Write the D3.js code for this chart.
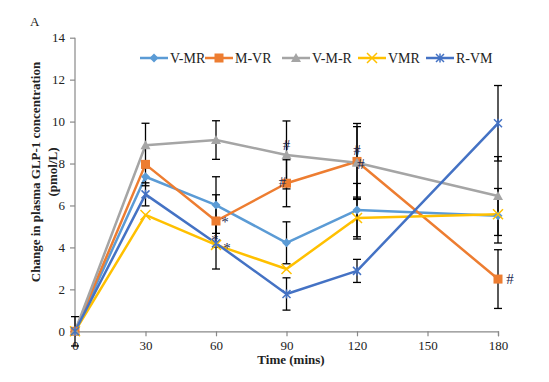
<!DOCTYPE html>
<html><head><meta charset="utf-8">
<script src="https://cdn.jsdelivr.net/npm/d3@7"></script>
<style>body{margin:0;background:#fff}svg{display:block}</style>
</head><body><svg id="c" width="549" height="382"></svg>
<script>
const times = [0, 30, 60, 90, 120, 180];
const xTicks = [0, 30, 60, 90, 120, 150, 180];
const yTicks = [0, 2, 4, 6, 8, 10, 12, 14];
const seriesNames = ["V-MR", "M-VR", "V-M-R", "VMR", "R-VM"];
const vMR  = [0, 7.37, 6.02, 4.22, 5.78, 5.51];
const mVR  = [0, 7.96, 5.26, 7.06, 8.10, 2.49];
const vMRs = [0, 8.87, 9.12, 8.41, 8.04, 6.45];
const VMR  = [0, 5.55, 4.12, 2.97, 5.40, 5.58];
const rVM  = [0, 6.53, 4.20, 1.78, 2.88, 9.92];
const errVMR_  = [null, 0.43, 1.35, 1.00, 1.27, 1.30];
const errMVR   = [null, null, 1.25, 1.12, 1.81, 1.40];
const errVMRs  = [0.70, 1.05, 0.92, 1.62, 1.72, 1.88];
const errVMR   = [null, null, 1.15, null, 1.00, null];
const errRVM   = [null, 0.55, null, 0.77, 0.55, 1.80];
const colors = ["#5B9BD5", "#ED7D31", "#A5A5A5", "#FFC000", "#4472C4"];
const markerTypes = ["diamond", "square", "triangle", "x", "star"];
const annotations = [
  {s: 1, i: 2, t: "*", dx: 9, dy: 6},
  {s: 3, i: 2, t: "*", dx: 11, dy: 8},
  {s: 4, i: 2, t: "*", dx: -1, dy: 2},
  {s: 2, i: 3, t: "#", dx: 0, dy: -5},
  {s: 1, i: 3, t: "#", dx: -4, dy: 4},
  {s: 1, i: 4, t: "#", dx: 0, dy: -6},
  {s: 1, i: 4, t: "#", dx: 4, dy: 8},
  {s: 1, i: 5, t: "#", dx: 12, dy: 5}
];

const valuesList = [vMR, mVR, vMRs, VMR, rVM];
const errList = [errVMR_, errMVR, errVMRs, errVMR, errRVM];
const series = seriesNames.map((n, k) => ({name: n, color: colors[k], marker: markerTypes[k],
  pts: times.map((t, i) => ({t, v: valuesList[k][i], e: errList[k][i]}))}));

const svg = d3.select("#c");
const font = "'Liberation Serif','Times New Roman',serif";
const x = d3.scaleLinear().domain([0, 180]).range([75, 498]);
const y = d3.scaleLinear().domain([0, 14]).range([331.3, 37.7]);
const axisColor = "#898989";

// axes
const gy = svg.append("g").attr("transform", "translate(75,0)")
  .call(d3.axisLeft(y).tickValues(yTicks).tickSize(5).tickPadding(5));
const gx = svg.append("g").attr("transform", "translate(0,331.3)")
  .call(d3.axisBottom(x).tickValues(xTicks).tickSize(5).tickPadding(4));
[gx, gy].forEach(g => {
  g.selectAll("path,line").attr("stroke", axisColor).attr("stroke-width", 1.2);
  g.selectAll("text").attr("font-family", font).attr("font-size", 13).attr("fill", "#222");
});
gy.select(".domain").attr("d", "M0," + y(14) + "V" + y(0));

// lines
const line = d3.line().x(d => x(d.t)).y(d => y(d.v));
series.forEach(s => {
  svg.append("path").datum(s.pts).attr("d", line).attr("fill", "none")
    .attr("stroke", s.color).attr("stroke-width", 2.5).attr("stroke-linejoin", "round");
});

// error bars
const eg = svg.append("g").attr("stroke", "#000").attr("stroke-width", 1.3);
series.forEach(s => {
  s.pts.filter(p => p.e != null).forEach(p => {
    const cx = x(p.t), y1 = y(p.v + p.e), y2 = y(p.v - p.e);
    eg.append("line").attr("x1", cx).attr("x2", cx).attr("y1", y1).attr("y2", y2);
    eg.append("line").attr("x1", cx - 4).attr("x2", cx + 4).attr("y1", y1).attr("y2", y1);
    eg.append("line").attr("x1", cx - 4).attr("x2", cx + 4).attr("y1", y2).attr("y2", y2);
  });
});

function drawMarker(g, type, cx, cy, color) {
  if (type === "diamond") {
    g.append("path").attr("d", `M${cx},${cy-4.5}L${cx+4.5},${cy}L${cx},${cy+4.5}L${cx-4.5},${cy}Z`).attr("fill", color);
  } else if (type === "square") {
    g.append("rect").attr("x", cx - 4.5).attr("y", cy - 4.5).attr("width", 9).attr("height", 9).attr("fill", color);
  } else if (type === "triangle") {
    g.append("path").attr("d", `M${cx},${cy-5}L${cx+5},${cy+4}L${cx-5},${cy+4}Z`).attr("fill", color);
  } else if (type === "x") {
    g.append("path").attr("d", `M${cx-5},${cy-5}L${cx+5},${cy+5}M${cx-5},${cy+5}L${cx+5},${cy-5}`)
      .attr("stroke", color).attr("stroke-width", 1.5).attr("fill", "none");
  } else if (type === "star") {
    g.append("path").attr("d", `M${cx-4},${cy-4}L${cx+4},${cy+4}M${cx-4},${cy+4}L${cx+4},${cy-4}M${cx},${cy-4.5}L${cx},${cy+4.5}`)
      .attr("stroke", color).attr("stroke-width", 1.5).attr("fill", "none");
  }
}

// markers
series.forEach(s => {
  const g = svg.append("g");
  s.pts.forEach(p => drawMarker(g, s.marker, x(p.t), y(p.v), s.color));
});

// annotations
annotations.forEach(a => {
  const p = series[a.s].pts[a.i];
  svg.append("text").attr("x", x(p.t) + a.dx).attr("y", y(p.v) + a.dy)
    .attr("text-anchor", "middle").attr("font-family", font).attr("font-size", 15)
    .attr("fill", "#1F2A50").text(a.t);
});

// legend
const legX = [140, 205, 282, 358, 426];
series.forEach((s, k) => {
  const g = svg.append("g");
  const lx = legX[k], ly = 58;
  g.append("line").attr("x1", lx).attr("x2", lx + 28).attr("y1", ly).attr("y2", ly)
    .attr("stroke", s.color).attr("stroke-width", 2.5);
  drawMarker(g, s.marker, lx + 14, ly, s.color);
  g.append("text").attr("x", lx + 30).attr("y", ly + 5).attr("font-family", font)
    .attr("font-size", 14).attr("fill", "#222").text(s.name);
});

// titles
svg.append("text").attr("x", 30).attr("y", 26).attr("font-family", font).attr("font-size", 13).attr("fill", "#222").text("A");
svg.append("text").attr("x", 291).attr("y", 364).attr("text-anchor", "middle").attr("font-family", font)
  .attr("font-size", 13).attr("font-weight", "bold").attr("fill", "#222").text("Time (mins)");
const yl = svg.append("text").attr("transform", "translate(40,172) rotate(-90)").attr("text-anchor", "middle")
  .attr("font-family", font).attr("font-size", 13).attr("font-weight", "bold").attr("fill", "#222");
yl.append("tspan").attr("x", 0).attr("y", 0).text("Change in plasma GLP-1 concentration");
yl.append("tspan").attr("x", 0).attr("y", 17).text("(pmol/L)");
</script></body></html>
